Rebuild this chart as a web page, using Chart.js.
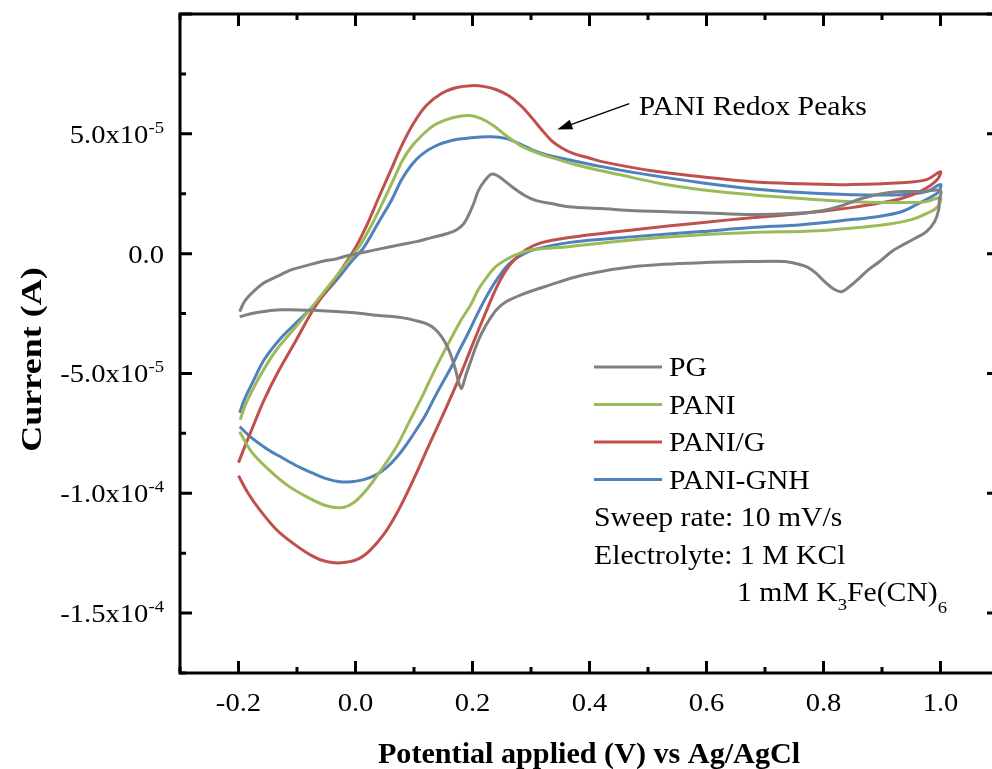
<!DOCTYPE html>
<html>
<head>
<meta charset="utf-8">
<script src="https://cdn.jsdelivr.net/npm/chart.js@4.4.0/dist/chart.umd.min.js"></script>
<style>
html, body { margin: 0; padding: 0; background: #fff; overflow: hidden; }
#wrap { width: 992px; height: 769px; overflow: hidden; }
canvas { display: block; }
</style>
</head>
<body>
<div id="wrap"><canvas id="cv" width="1004" height="769"></canvas></div>
<script>
// CV loops: potential (V) and current (uA), forward scan then reverse scan
const pgV = [-0.198,-0.191,-0.183,-0.169,-0.156,-0.135,-0.109,-0.084,-0.058,-0.032,-0.012,0.019,0.044,0.079,0.104,0.130,0.156,0.173,0.185,0.193,0.202,0.210,0.221,0.231,0.239,0.250,0.267,0.287,0.309,0.335,0.364,0.421,0.477,0.591,0.677,0.745,0.797,0.831,0.865,0.899,0.933,0.968,1.0,
  0.998,0.997,0.990,0.976,0.956,0.933,0.916,0.896,0.877,0.858,0.844,0.831,0.819,0.802,0.788,0.774,0.754,0.733,0.677,0.591,0.477,0.391,0.323,0.284,0.258,0.241,0.229,0.217,0.207,0.198,0.190,0.185,0.181,0.176,0.171,0.164,0.157,0.147,0.135,0.121,0.104,0.079,0.044,-0.007,-0.058,-0.126,-0.169,-0.198];
const pgI = [-24.2,-20.5,-17.9,-14.6,-12.1,-9.6,-6.7,-5.0,-3.3,-2.1,-0.8,0.8,2.1,3.8,5.0,6.7,8.3,10.0,12.5,15.9,20.9,26.3,30.5,33.0,33.0,31.3,28.0,24.6,22.1,20.9,19.6,18.8,17.9,17.1,16.3,16.7,17.9,20.0,23.0,25.0,25.9,25.9,26.3,
  22.5,18.4,13.4,9.2,6.3,3.3,0.8,-3.3,-6.7,-10.9,-13.8,-15.9,-15.0,-11.7,-8.3,-5.8,-4.2,-3.3,-3.3,-3.8,-5.4,-8.8,-13.8,-17.1,-20.0,-23.4,-27.5,-32.6,-38.0,-44.2,-49.7,-53.8,-56.3,-53.4,-48.4,-43.0,-38.8,-34.6,-31.3,-29.2,-28.0,-26.7,-25.9,-24.6,-23.8,-23.4,-24.6,-26.3];

const paniV = [-0.197,-0.188,-0.174,-0.157,-0.135,-0.106,-0.074,-0.036,0.005,0.027,0.048,0.065,0.080,0.096,0.113,0.133,0.156,0.176,0.195,0.215,0.236,0.255,0.272,0.289,0.309,0.335,0.369,0.403,0.450,0.523,0.591,0.677,0.762,0.848,0.933,0.976,1.0,
  0.995,0.976,0.950,0.916,0.877,0.791,0.677,0.591,0.477,0.364,0.306,0.275,0.255,0.238,0.224,0.210,0.197,0.181,0.164,0.147,0.130,0.113,0.092,0.070,0.044,0.019,-0.003,-0.024,-0.050,-0.084,-0.118,-0.152,-0.178,-0.198];
const paniI = [-69.3,-63.0,-55.9,-48.4,-40.1,-31.7,-22.1,-10.4,2.5,11.7,22.1,30.9,38.8,44.7,49.2,53.4,55.9,57.2,57.6,56.3,53.4,49.7,46.7,44.2,42.2,40.1,37.6,35.5,33.0,29.2,26.7,24.6,23.0,21.7,21.3,21.7,23.4,
  19.6,16.7,14.2,12.5,11.3,9.6,8.8,7.9,5.8,2.9,1.7,-0.4,-2.9,-5.8,-10.0,-15.0,-21.3,-27.5,-35.1,-43.0,-51.3,-60.1,-70.1,-80.6,-90.2,-98.5,-103.9,-106.0,-105.2,-101.4,-96.4,-89.3,-82.6,-74.3];

const paniGV = [-0.200,-0.190,-0.174,-0.156,-0.132,-0.101,-0.070,-0.036,-0.002,0.019,0.039,0.060,0.079,0.099,0.121,0.147,0.173,0.198,0.221,0.241,0.262,0.284,0.301,0.318,0.335,0.352,0.373,0.397,0.421,0.506,0.591,0.677,0.762,0.848,0.933,0.976,1.0,
  0.993,0.968,0.933,0.891,0.848,0.762,0.677,0.591,0.477,0.364,0.318,0.292,0.275,0.258,0.241,0.221,0.198,0.176,0.152,0.126,0.099,0.072,0.048,0.024,0.002,-0.024,-0.050,-0.075,-0.106,-0.135,-0.164,-0.183,-0.200];
const paniGI = [-87.2,-81.0,-71.4,-60.9,-49.2,-35.9,-22.5,-10.9,1.7,11.7,23.0,34.6,45.1,54.3,61.8,66.8,69.3,70.1,69.7,68.4,65.9,61.4,56.8,51.8,47.2,44.2,41.7,40.1,38.4,34.6,32.1,30.0,29.2,28.8,29.6,30.9,34.2,
  30.5,26.3,23.0,20.9,19.2,16.7,15.0,12.9,10.0,6.7,4.6,1.7,-1.7,-6.7,-14.2,-25.5,-39.2,-52.6,-65.9,-79.7,-94.3,-107.7,-117.3,-124.0,-127.7,-129.0,-128.5,-126.0,-121.0,-115.2,-106.8,-100.2,-92.7];

const gnhV = [-0.198,-0.190,-0.176,-0.156,-0.130,-0.101,-0.070,-0.032,-0.007,0.014,0.038,0.062,0.079,0.096,0.113,0.135,0.164,0.198,0.232,0.258,0.280,0.301,0.326,0.364,0.421,0.477,0.591,0.677,0.762,0.848,0.933,0.976,1.0,
  0.997,0.985,0.959,0.933,0.891,0.848,0.762,0.677,0.591,0.477,0.364,0.306,0.279,0.263,0.250,0.236,0.221,0.207,0.193,0.178,0.164,0.149,0.135,0.120,0.104,0.087,0.070,0.053,0.036,0.014,-0.007,-0.027,-0.050,-0.075,-0.101,-0.126,-0.152,-0.178,-0.198];
const gnhI = [-66.4,-60.9,-53.8,-44.2,-35.9,-28.8,-21.3,-10.9,-3.3,2.5,12.5,22.5,30.9,37.1,41.3,44.7,47.2,48.4,48.8,48.0,45.9,43.4,41.3,39.2,36.3,33.8,29.6,27.1,25.5,24.6,24.6,25.9,28.8,
  25.9,23.8,20.5,17.5,15.4,14.2,12.1,10.9,9.2,7.1,4.6,1.7,-1.3,-4.2,-7.9,-12.9,-19.2,-25.9,-33.0,-40.1,-47.2,-53.8,-60.1,-67.2,-73.5,-79.7,-85.1,-89.3,-92.2,-94.3,-95.2,-95.2,-93.9,-91.4,-88.5,-85.1,-81.4,-76.8,-72.2];

const seriesNames = ['PG', 'PANI', 'PANI/G', 'PANI-GNH'];
const seriesColors = ['#808080', '#9BBB59', '#C0504D', '#4F81BD'];

const xTicks = [-0.2, 0.0, 0.2, 0.4, 0.6, 0.8, 1.0];
const xTickLabels = ['-0.2', '0.0', '0.2', '0.4', '0.6', '0.8', '1.0'];
const yTicks = [5e-5, 0, -5e-5, -1e-4, -1.5e-4];
const yTickLabels = [['5.0x10', '-5'], ['0.0', ''], ['-5.0x10', '-5'], ['-1.0x10', '-4'], ['-1.5x10', '-4']];

const notes = ['Sweep rate: 10 mV/s', 'Electrolyte: 1 M KCl'];

const toPoints = (v, i) => v.map((p, k) => ({ x: p, y: i[k] * 1e-6 }));
const loops = [[pgV, pgI], [paniV, paniI], [paniGV, paniGI], [gnhV, gnhI]];

const serif = '"Liberation Serif", "Times New Roman", serif';
const SX = 1.1; // the original face is a touch wider than Liberation Serif

// text run with sub/superscripts, parts = [[text, yShift, size]], stretched by sx
function richText(ctx, parts, x, y, align, sx, weight) {
  const w = weight || '';
  let total = 0;
  parts.forEach(p => { ctx.font = w + ' ' + p[2] + 'px ' + serif; total += ctx.measureText(p[0]).width; });
  let start = 0;
  if (align === 'right') start = -total;
  if (align === 'center') start = -total / 2;
  ctx.save();
  ctx.translate(x, y);
  ctx.scale(sx, 1);
  ctx.textAlign = 'left';
  let cx = start;
  parts.forEach(p => {
    ctx.font = w + ' ' + p[2] + 'px ' + serif;
    ctx.fillText(p[0], cx, p[1]);
    cx += ctx.measureText(p[0]).width;
  });
  ctx.restore();
}

const frame = {
  id: 'frame',
  afterDatasetsDraw(chart) {
    const { ctx, chartArea: a, scales: { x, y } } = chart;
    ctx.save();
    ctx.strokeStyle = '#000';
    ctx.fillStyle = '#000';
    ctx.lineWidth = 3;
    ctx.strokeRect(a.left, a.top, a.right - a.left, a.bottom - a.top);

    // inward ticks on all four sides
    ctx.beginPath();
    for (let k = -3; k <= 11; k++) {
      const px = x.getPixelForValue(k / 10);
      const len = k % 2 === 0 ? 12 : 6;
      ctx.moveTo(px, a.bottom); ctx.lineTo(px, a.bottom - len);
      ctx.moveTo(px, a.top); ctx.lineTo(px, a.top + len);
    }
    for (let k = -7; k <= 4; k++) {
      const py = y.getPixelForValue(k * 2.5e-5);
      const len = k % 2 === 0 ? 12 : 6;
      ctx.moveTo(a.left, py); ctx.lineTo(a.left + len, py);
      ctx.moveTo(a.right, py); ctx.lineTo(a.right - len, py);
    }
    ctx.stroke();

    // tick labels
    ctx.textBaseline = 'alphabetic';
    xTicks.forEach((v, i) => richText(ctx, [[xTickLabels[i], 0, 26]], x.getPixelForValue(v), a.bottom + 38, 'center', SX));
    yTicks.forEach((v, i) => {
      const py = y.getPixelForValue(v);
      richText(ctx, [[yTickLabels[i][0], 0, 26], [yTickLabels[i][1], -10, 17]], a.left - 16, py + 9, 'right', SX);
    });

    // axis titles
    richText(ctx, [['Potential applied (V) vs Ag/AgCl', 0, 29]], 589, a.bottom + 90, 'center', 1.04, 'bold');
    ctx.save();
    ctx.translate(41, (a.top + a.bottom) / 2 + 16);
    ctx.rotate(-Math.PI / 2);
    richText(ctx, [['Current (A)', 0, 30]], 0, 0, 'center', 1.2, 'bold');
    ctx.restore();

    // legend
    const lx = a.left + 414, ly = a.top + 353, row = 37.5;
    chart.data.datasets.forEach((d, i) => {
      const yy = ly + i * row;
      ctx.strokeStyle = d.borderColor;
      ctx.lineWidth = 3;
      ctx.beginPath(); ctx.moveTo(lx, yy); ctx.lineTo(lx + 68, yy); ctx.stroke();
      richText(ctx, [[d.label, 0, 27]], lx + 75, yy + 9, 'left', SX);
    });
    notes.forEach((t, i) => richText(ctx, [[t, 0, 27]], lx, ly + (4 + i) * row + 9, 'left', SX));
    richText(ctx, [['1 mM K', 0, 27], ['3', 9, 17], ['Fe(CN)', 0, 27], ['6', 12, 17]], lx + 143, ly + 6 * row + 9, 'left', SX);

    // annotation with arrow
    richText(ctx, [['PANI Redox Peaks', 0, 27]], x.getPixelForValue(0.484), y.getPixelForValue(58e-6), 'left', SX);
    const x0 = x.getPixelForValue(0.468), y0 = y.getPixelForValue(62.6e-6);
    const x1 = x.getPixelForValue(0.345), y1 = y.getPixelForValue(51.8e-6);
    const ang = Math.atan2(y1 - y0, x1 - x0);
    ctx.strokeStyle = '#000';
    ctx.lineWidth = 1.5;
    ctx.beginPath(); ctx.moveTo(x0, y0); ctx.lineTo(x1 - 10 * Math.cos(ang), y1 - 10 * Math.sin(ang)); ctx.stroke();
    ctx.beginPath();
    ctx.moveTo(x1, y1);
    ctx.lineTo(x1 - 15 * Math.cos(ang) + 5 * Math.sin(ang), y1 - 15 * Math.sin(ang) - 5 * Math.cos(ang));
    ctx.lineTo(x1 - 15 * Math.cos(ang) - 5 * Math.sin(ang), y1 - 15 * Math.sin(ang) + 5 * Math.cos(ang));
    ctx.closePath();
    ctx.fill();
    ctx.restore();
  }
};

new Chart(document.getElementById('cv'), {
  type: 'scatter',
  data: {
    datasets: loops.map((l, i) => ({
      label: seriesNames[i],
      data: toPoints(l[0], l[1]),
      showLine: true,
      borderColor: seriesColors[i],
      backgroundColor: seriesColors[i],
      borderWidth: 3,
      pointRadius: 0,
      tension: 0.35
    }))
  },
  options: {
    responsive: false,
    animation: false,
    devicePixelRatio: 1,
    layout: { padding: { top: 14, right: 5, left: 0, bottom: 0 } },
    plugins: { legend: { display: false }, tooltip: { enabled: false } },
    scales: {
      x: {
        type: 'linear', min: -0.3, max: 1.1,
        grid: { display: false }, border: { display: false },
        ticks: { display: false },
        afterFit: s => { s.height = 96; }
      },
      y: {
        type: 'linear', min: -1.75e-4, max: 1e-4,
        grid: { display: false }, border: { display: false },
        ticks: { display: false },
        afterFit: s => { s.width = 180; }
      }
    }
  },
  plugins: [frame]
});
</script>
</body>
</html>
